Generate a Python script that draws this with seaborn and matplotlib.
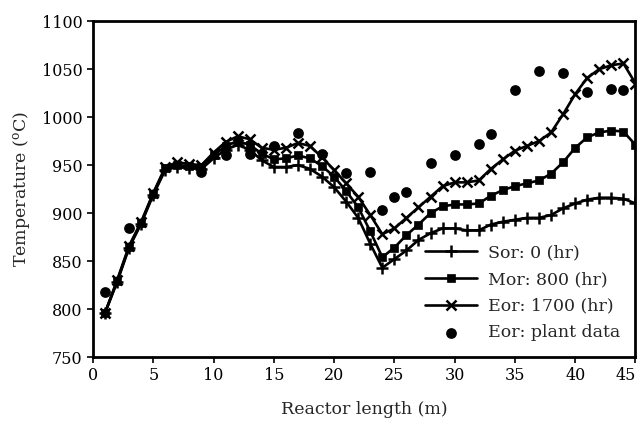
import matplotlib
matplotlib.use("Agg")
import matplotlib.pyplot as plt
import pandas as pd
import seaborn as sns

# reactor length positions (m)
length = list(range(1, 46))

sor_0hr = [796, 828, 864, 889, 919, 945, 948, 947, 946, 957, 966, 971, 966, 955, 948,
           948, 950, 946, 938, 927, 912, 895, 868, 843, 852, 861, 872, 879, 884, 884,
           882, 882, 888, 891, 893, 895, 895, 898, 905, 910, 914, 916, 916, 915, 910]
mor_800hr = [796, 829, 865, 890, 920, 947, 950, 949, 948, 960, 970, 975, 971, 962, 956,
             957, 960, 957, 949, 938, 923, 906, 881, 854, 864, 877, 888, 900, 907, 909,
             909, 910, 918, 924, 928, 931, 934, 941, 953, 968, 979, 984, 986, 985, 971]
eor_1700hr = [796, 830, 866, 891, 921, 948, 953, 951, 950, 963, 974, 980, 977, 968, 966,
              968, 973, 970, 958, 945, 931, 917, 898, 878, 884, 895, 906, 917, 928, 932,
              932, 934, 946, 956, 965, 970, 975, 984, 1003, 1024, 1041, 1050, 1054, 1056, 1035]

plant_x = [1, 3, 9, 11, 13, 15, 17, 19, 21, 23, 24, 25, 26, 28, 30, 32, 33, 35, 37, 39, 41, 43, 44]
plant_t = [818, 884, 943, 960, 962, 970, 983, 962, 942, 943, 903, 917, 922, 952, 961, 972,
           982, 1028, 1048, 1046, 1026, 1029, 1028]

df = pd.DataFrame({"x": length, "Sor": sor_0hr, "Mor": mor_800hr, "Eor": eor_1700hr})
plant = pd.DataFrame({"x": plant_x, "t": plant_t})

sns.set_theme(style="ticks")
plt.rcParams["font.family"] = ["DejaVu Serif"]
plt.rcParams["mathtext.fontset"] = "dejavuserif"

fig = plt.figure(figsize=(6.39, 4.23), dpi=100)
ax = fig.add_axes([0.1455, 0.156, 0.849, 0.794])

styles = [
    ("Sor", "Sor: 0 (hr)", dict(marker="+", markersize=8, markeredgewidth=1.8)),
    ("Mor", "Mor: 800 (hr)", dict(marker="s", markersize=5.5, markeredgewidth=0.5)),
    ("Eor", "Eor: 1700 (hr)", dict(marker="x", markersize=7.5, markeredgewidth=1.8)),
]
for col, lab, kw in styles:
    sns.lineplot(data=df, x="x", y=col, ax=ax, color="black", linewidth=1.9,
                 markeredgecolor="black", label=lab, **kw)

sns.scatterplot(data=plant, x="x", y="t", ax=ax, color="black", s=60,
                linewidth=0, label="Eor: plant data", zorder=3)

ax.set_xlim(0, 45)
ax.set_ylim(750, 1100)
ax.set_xticks(range(0, 46, 5))
ax.set_yticks(range(750, 1101, 50))
ax.tick_params(direction="out", length=4, width=1.2, labelsize=11.5, colors="black")
# last x label sits flush with the right edge, as in the original
ax.get_xticklabels()[-1].set_horizontalalignment("right")
for s in ax.spines.values():
    s.set_linewidth(2)
    s.set_color("black")

ax.set_xlabel("Reactor length (m)", fontsize=12.5, labelpad=12)
ax.set_ylabel(r"Temperature ($^{\rm o}$C)", fontsize=12.5, labelpad=6)

ax.legend(loc="lower right", frameon=False, fontsize=12.5, handlelength=3.0,
          handletextpad=0.6, labelspacing=0.56, borderaxespad=0.6, borderpad=0.3)

fig.savefig("out.png", dpi=100)
